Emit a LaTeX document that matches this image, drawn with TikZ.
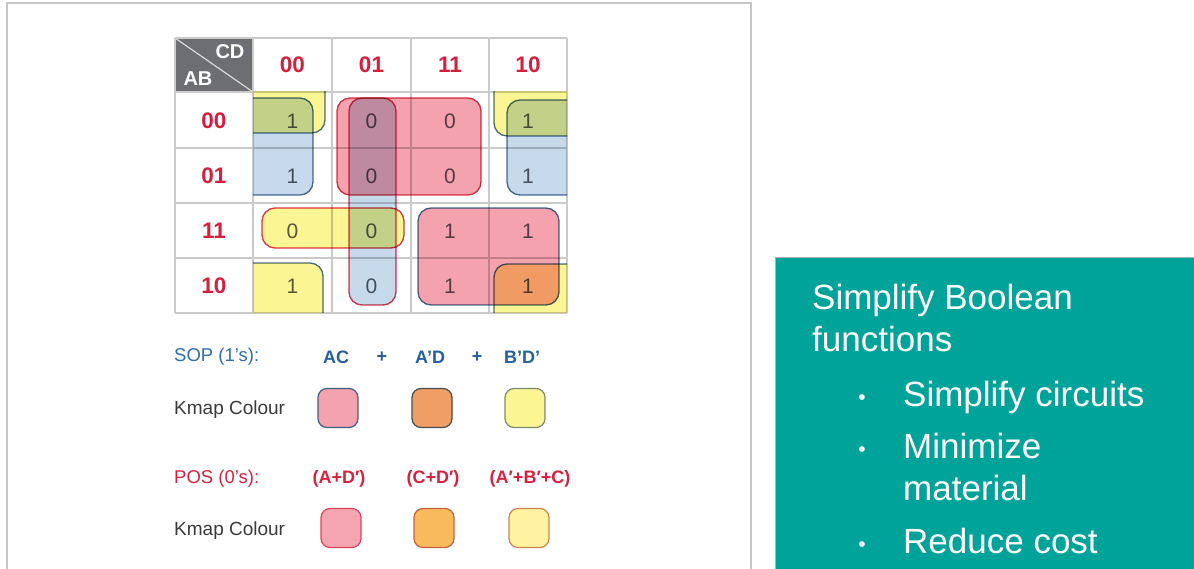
\documentclass[tikz,border=0pt]{standalone}
\usepackage{fontspec}
\setmainfont{Liberation Sans}
\definecolor{mapred}{HTML}{D51F3C}
\definecolor{gridgray}{HTML}{CACACA}
\definecolor{cornergray}{HTML}{6D6E71}
\definecolor{cornerline}{HTML}{D8D8D8}
\definecolor{cellnum}{HTML}{5A5D63}
\definecolor{grppink}{HTML}{F4A2AD}
\definecolor{grpblue}{HTML}{C6DAEC}
\definecolor{grpyellow}{HTML}{FCF594}
\definecolor{sopline}{HTML}{4A6F98}
\definecolor{posline}{HTML}{D8394F}
\definecolor{soptext}{HTML}{2F6EAA}
\definecolor{sopbold}{HTML}{24609F}
\definecolor{postext}{HTML}{D6223F}
\definecolor{legendgray}{HTML}{3A3A3A}
\definecolor{tealbox}{HTML}{00A39A}
\definecolor{framegray}{HTML}{C6C6C6}
\tikzset{
  hdr/.style={font=\fontsize{22.5}{26}\selectfont\bfseries, text=mapred, inner sep=0pt},
  cornerlbl/.style={font=\fontsize{20}{24}\selectfont\bfseries, text=white, inner sep=0pt},
  val/.style={font=\fontsize{21}{25}\selectfont, text=cellnum, inner sep=0pt},
  grp/.style={rounded corners=13pt, blend mode=multiply, line width=1.3pt},
  sopgrp/.style={grp, draw=sopline},
  posgrp/.style={grp, draw=posline},
  legend/.style={font=\fontsize{18.5}{22}\selectfont, anchor=west, inner sep=0pt},
  kmaplbl/.style={font=\fontsize{19}{22}\selectfont, anchor=west, inner sep=0pt, text=legendgray},
  term/.style={font=\fontsize{18}{22}\selectfont\bfseries, inner sep=0pt},
  swatch/.style={minimum width=40pt, minimum height=39pt, rounded corners=9pt, line width=1.2pt, inner sep=0pt},
  bigtxt/.style={font=\fontsize{35}{40}\selectfont, text=white, anchor=base west, inner sep=0pt},
  bullet/.style={font=\fontsize{21}{24}\selectfont, text=white, anchor=base, inner sep=0pt}
}
\begin{document}
\begin{tikzpicture}[x=1pt,y=-1pt]
\useasboundingbox (0,0) rectangle (1194,569);
\fill[white] (0,0) rectangle (1194,569);

% slide frame around the map panel
\draw[framegray, line width=2pt] (7,575) -- (7,3) -- (751,3) -- (751,575);

% teal summary panel
\fill[tealbox] (775,257) rectangle (1200,575);
\draw[gray!60, line width=0.8pt] (775,575) -- (775,257) -- (1200,257);

% corner cell of the map
\fill[cornergray] (175,38) rectangle (253,92);
\draw[cornerline, line width=1.2pt] (175,38) -- (253,92);
\node[cornerlbl] (cd) at (230,52) {CD};
\node[cornerlbl] (ab) at (198,79) {AB};

% grid
\foreach \x in {175,253,332,411,489,567} \draw[gridgray, line width=1.5pt] (\x,38) -- (\x,313);
\foreach \y in {38,92,148,203,258,313} \draw[gridgray, line width=1.5pt] (175,\y) -- (567,\y);

% column and row headings
\node[hdr] (c00) at (292.5,65) {00};
\node[hdr] (c01) at (371.5,65) {01};
\node[hdr] (c11) at (450,65) {11};
\node[hdr] (c10) at (528,65) {10};
\node[hdr] (r00) at (214,121) {00};
\node[hdr] (r01) at (214,176) {01};
\node[hdr] (r11) at (214,231) {11};
\node[hdr] (r10) at (214,286) {10};

% cell values
\node[val] (v0000) at (292.5,121) {1};
\node[val] (v0001) at (371.5,121) {0};
\node[val] (v0011) at (450,121) {0};
\node[val] (v0010) at (528,121) {1};
\node[val] (v0100) at (292.5,176) {1};
\node[val] (v0101) at (371.5,176) {0};
\node[val] (v0111) at (450,176) {0};
\node[val] (v0110) at (528,176) {1};
\node[val] (v1100) at (292.5,231) {0};
\node[val] (v1101) at (371.5,231) {0};
\node[val] (v1111) at (450,231) {1};
\node[val] (v1110) at (528,231) {1};
\node[val] (v1000) at (292.5,286) {1};
\node[val] (v1001) at (371.5,286) {0};
\node[val] (v1011) at (450,286) {1};
\node[val] (v1010) at (528,286) {1};

% groupings, clipped to the map area
\begin{scope}
\clip (253,92) rectangle (567,313);
% B'D' : the four corners
\path[sopgrp, fill=grpyellow] (230,70) rectangle (325,133);
\path[sopgrp, fill=grpyellow] (494,70) rectangle (590,136);
\path[sopgrp, fill=grpyellow] (230,263) rectangle (323,335);
\path[sopgrp, fill=grpyellow] (494,264) rectangle (590,335);
% side pieces
\path[sopgrp, fill=grpblue] (230,98) rectangle (313,195);
\path[sopgrp, fill=grpblue] (507,100) rectangle (590,195);
% AC
\path[sopgrp, fill=grppink] (418,208) rectangle (559,305);
% POS groups
\path[posgrp, fill=grppink] (337,98) rectangle (481,195);
\path[posgrp, fill=grpblue] (349,98) rectangle (396,305);
\path[posgrp, fill=grpyellow] (262,208) rectangle (404,248);
\end{scope}

% SOP legend
\node[legend, text=soptext] (sop) at (174,357) {SOP (1’s):};
\node[term, text=sopbold] (t1) at (336,357) {AC};
\node[term, text=sopbold] (p1) at (382,357) {+};
\node[term, text=sopbold] (t2) at (430,357) {A’D};
\node[term, text=sopbold] (p2) at (477,357) {+};
\node[term, text=sopbold] (t3) at (522,357) {B’D’};
\node[kmaplbl] (kc1) at (174,410) {Kmap Colour};
\node[swatch, fill=grppink, draw=sopline!85!black] (s1) at (338,408) {};
\node[swatch, fill={rgb,255:red,240;green,158;blue,102}, draw=black!70] (s2) at (432,408) {};
\node[swatch, fill=grpyellow, draw={rgb,255:red,125;green,138;blue,110}] (s3) at (525,408) {};

% POS legend
\node[legend, text=postext] (pos) at (174,479) {POS (0’s):};
\node[term, text=postext] (q1) at (339,479) {(A+D′)};
\node[term, text=postext] (q2) at (433,479) {(C+D′)};
\node[term, text=postext] (q3) at (530,479) {(A′+B′+C)};
\node[kmaplbl] (kc2) at (174,531) {Kmap Colour};
\node[swatch, fill={rgb,255:red,244;green,165;blue,175}, draw={rgb,255:red,217;green,71;blue,92}] (u1) at (341,528) {};
\node[swatch, fill={rgb,255:red,249;green,186;blue,94}, draw={rgb,255:red,201;green,96;blue,61}] (u2) at (434,528) {};
\node[swatch, fill={rgb,255:red,253;green,243;blue,160}, draw={rgb,255:red,208;green,131;blue,79}] (u3) at (529,528) {};

% summary text
\node[bigtxt] (h1) at (812,310) {Simplify Boolean};
\node[bigtxt] (h2) at (812,352) {functions};
\node[bullet] (b1) at (862,404) {•};
\node[bigtxt] (i1) at (903,406) {Simplify circuits};
\node[bullet] (b2) at (862,456) {•};
\node[bigtxt] (i2) at (903,458) {Minimize};
\node[bigtxt] (i3) at (903,500) {material};
\node[bullet] (b3) at (862,551) {•};
\node[bigtxt] (i4) at (903,553) {Reduce cost};
\end{tikzpicture}
\end{document}
